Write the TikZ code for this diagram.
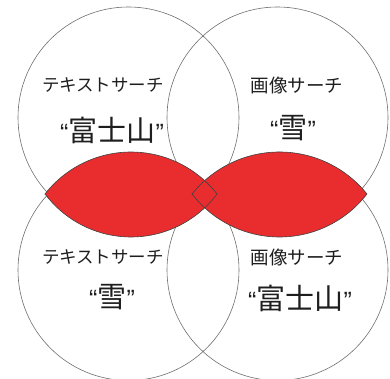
\documentclass[tikz,border=0pt]{standalone}
\usepackage{fontspec}
\newfontfamily\jp{Noto Sans CJK JP}
\newfontfamily\qf{Liberation Sans}
\definecolor{lensred}{RGB}{233,45,47}
\definecolor{ringgray}{RGB}{110,110,110}
\definecolor{txt}{RGB}{30,30,30}
\newcommand{\qq}[1]{{\qf\fontsize{25}{25}\selectfont “}#1{\qf\fontsize{25}{25}\selectfont ”}}
\begin{document}
\begin{tikzpicture}[x=1pt,y=1pt,
  ring/.style={draw=ringgray,line width=0.6pt},
  lens/.style={fill=lensred},
  lensline/.style={draw=black!75,line width=0.6pt},
  title/.style={font=\jp\fontsize{17.5}{20}\selectfont,text=txt,inner sep=0pt},
  word/.style={font=\jp\fontsize{29}{30}\selectfont,text=txt,inner sep=0pt}]
\useasboundingbox (0,0) rectangle (390,379);
% circles
\draw[ring] (128.5,261.5) circle[radius=110.5];
\draw[ring] (277.5,261.5) circle[radius=110.5];
\draw[ring] (128.5,109) circle[radius=110.5];
\draw[ring] (277.5,109) circle[radius=110.5];
% lenses (fill)
\path[lens] (45,185) arc[start angle=142.04,end angle=37.96,radius=109.1]
   arc[start angle=-36.87,end angle=-143.13,radius=107.5] -- cycle;
\path[lens] (192,185) arc[start angle=141.3,end angle=38.7,radius=112.1]
   arc[start angle=-37.65,end angle=-142.35,radius=110.5] -- cycle;
% lens outlines
\draw[lensline] (45,185) arc[start angle=142.04,end angle=37.96,radius=109.1]
   arc[start angle=-36.87,end angle=-143.13,radius=107.5] -- cycle;
\draw[lensline] (192,185) arc[start angle=141.3,end angle=38.7,radius=112.1]
   arc[start angle=-37.65,end angle=-142.35,radius=110.5] -- cycle;
% texts
\node[title] (tlt) at (103,294) {テキストサーチ};
\node[word]  (tlw) at (112,249) {\qq{富士山}};
\node[title,font=\jp\fontsize{18.5}{20}\selectfont] (trt) at (297,294) {画像サーチ};
\node[word]  (trw) at (293,251) {\qq{雪}};
\node[title] (blt) at (103,122) {テキストサーチ};
\node[word]  (blw) at (112,82) {\qq{雪}};
\node[title,font=\jp\fontsize{18.5}{20}\selectfont] (brt) at (297,122) {画像サーチ};
\node[word]  (brw) at (300,81) {\qq{富士山}};
\end{tikzpicture}
\end{document}
